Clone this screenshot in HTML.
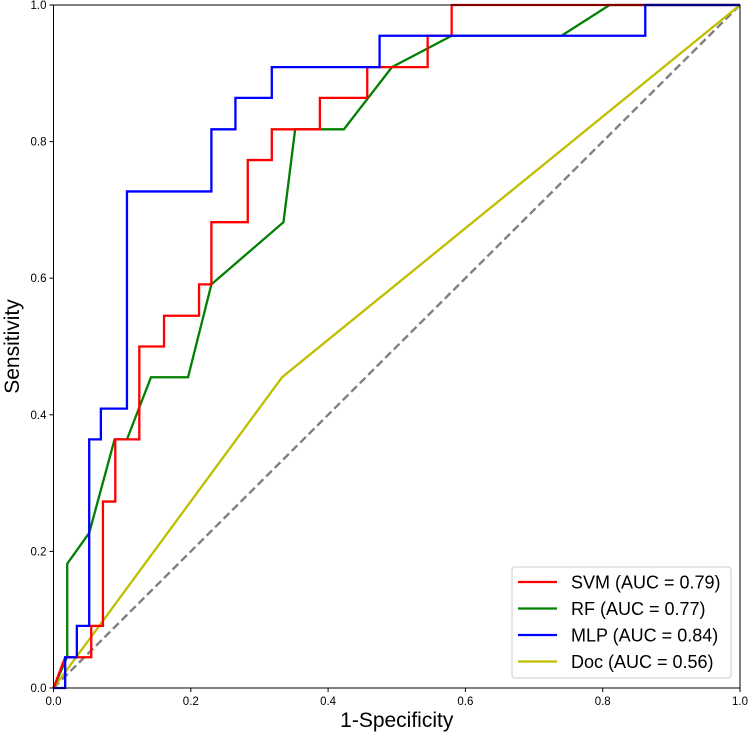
<!DOCTYPE html>
<html><head><meta charset="utf-8"><style>
body{margin:0;background:#fff;}
svg text{font-family:"Liberation Sans",Arial,sans-serif;fill:#000;}
</style></head><body>
<svg id="chart" width="750" height="737" xmlns="http://www.w3.org/2000/svg">
<g id="plot"></g>
</svg>
<script>
const xTicks=[0,0.2,0.4,0.6,0.8,1.0];
const yTicks=[0,0.2,0.4,0.6,0.8,1.0];
const tickLabels=["0.0","0.2","0.4","0.6","0.8","1.0"];
const seriesNames=["SVM (AUC = 0.79)","RF (AUC = 0.77)","MLP (AUC = 0.84)","Doc (AUC = 0.56)"];
const svmX=[0,0.017,0.055,0.055,0.072,0.072,0.09,0.09,0.125,0.125,0.161,0.161,0.212,0.212,0.23,0.23,0.283,0.283,0.318,0.318,0.388,0.388,0.457,0.457,0.545,0.545,0.58,0.58,1];
const svmY=[0,0.045,0.045,0.091,0.091,0.273,0.273,0.364,0.364,0.5,0.5,0.545,0.545,0.591,0.591,0.682,0.682,0.773,0.773,0.818,0.818,0.864,0.864,0.909,0.909,0.955,0.955,1,1];
const rfX=[0,0.02,0.02,0.052,0.089,0.107,0.142,0.196,0.23,0.335,0.352,0.423,0.493,0.58,0.74,0.81,1];
const rfY=[0,0.046,0.182,0.227,0.364,0.364,0.455,0.455,0.591,0.682,0.818,0.818,0.909,0.955,0.955,1,1];
const mlpX=[0,0.017,0.017,0.034,0.034,0.052,0.052,0.069,0.069,0.107,0.107,0.23,0.23,0.265,0.265,0.318,0.318,0.475,0.475,0.862,0.862,1];
const mlpY=[0,0,0.045,0.045,0.091,0.091,0.364,0.364,0.409,0.409,0.727,0.727,0.818,0.818,0.864,0.864,0.909,0.909,0.955,0.955,1,1];
const docX=[0,0.333,1];
const docY=[0,0.455,1];

const X0=53.5,X1=740,Y0=688,Y1=5;
const sx=v=>X0+v*(X1-X0), sy=v=>Y0-v*(Y0-Y1);
const NS="http://www.w3.org/2000/svg";
const g=document.getElementById('plot');
function mk(t,a){const e=document.createElementNS(NS,t);for(const k in a)e.setAttribute(k,a[k]);g.appendChild(e);return e;}
let d=mk('line',{x1:sx(0),y1:sy(0),x2:sx(1),y2:sy(1),stroke:'#808080','stroke-width':2.4,'stroke-dasharray':'8,4'});


const series=[[svmX,svmY,'#ff0000','svm-curve'],[rfX,rfY,'#008000','rf-curve'],[mlpX,mlpY,'#0000ff','mlp-curve'],[docX,docY,'#bfbf00','doc-curve']];
const order=[3,1,0,2];
order.forEach(i=>{const [xs,ys,c,n]=series[i];
 const p=mk('polyline',{points:xs.map((x,j)=>sx(x)+','+sy(ys[j])).join(' '),fill:'none',stroke:c,'stroke-width':2.3,'stroke-linejoin':'miter'});
 
 
});
const f=mk('rect',{x:X0,y:Y1,width:X1-X0,height:Y0-Y1,fill:'none',stroke:'#000','stroke-width':1});


xTicks.forEach((v,i)=>{mk('line',{x1:sx(v),x2:sx(v),y1:Y0,y2:Y0+4,stroke:'#000'});
 const t=mk('text',{x:sx(v),y:Y0+17,'text-anchor':'middle','font-size':11.5});t.textContent=tickLabels[i];
 
 });
yTicks.forEach((v,i)=>{mk('line',{x1:X0-4,x2:X0,y1:sy(v),y2:sy(v),stroke:'#000'});
 const t=mk('text',{x:X0-7,y:sy(v)+4,'text-anchor':'end','font-size':11.5});t.textContent=tickLabels[i];
 
 });
let xt=mk('text',{x:(X0+X1)/2,y:727,'text-anchor':'middle','font-size':21});xt.textContent='1-Specificity';


let yt=mk('text',{x:19,y:(Y0+Y1)/2,'text-anchor':'middle','font-size':21,transform:`rotate(-90 19 ${(Y0+Y1)/2})`});yt.textContent='Sensitivity';


const lb=mk('rect',{x:512,y:567,width:219,height:111,rx:3,fill:'#fff',stroke:'#ccc','stroke-width':1});


seriesNames.forEach((n,i)=>{const y=582+i*26.5;
 mk('line',{x1:518,x2:557,y1:y,y2:y,stroke:series[i][2],'stroke-width':2.3});
 const t=mk('text',{x:571,y:y+6.5,'font-size':18});t.textContent=n;
 
 });
</script>
</body></html>
